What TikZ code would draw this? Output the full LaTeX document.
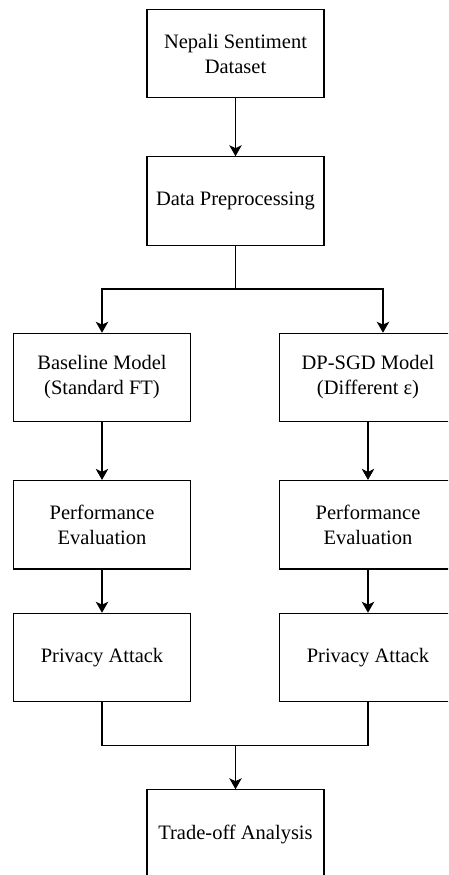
\documentclass[tikz,border=0pt]{standalone}
\usepackage{fontspec}
\setmainfont{Liberation Serif}
\usetikzlibrary{arrows.meta}

\begin{document}
\begin{tikzpicture}[
  x=1pt, y=-1pt,
  box/.style={draw, line width=1.1pt, minimum width=177pt, minimum height=88.5pt,
    align=center, font=\fontsize{20.5}{25}\selectfont},
  arr/.style={-{Stealth[length=11pt, width=12.5pt, inset=3pt]}, line width=1.1pt},
  wire/.style={line width=1.1pt}
]
  \useasboundingbox (0,0) rectangle (448,875);
  \clip (0,0) rectangle (448,875);

  \node[box] (data)  at (235.5,53.5)  {Nepali Sentiment\\Dataset};
  \node[box] (prep)  at (235.5,201)   {Data Preprocessing};
  \node[box] (base)  at (102,377.5)   {Baseline Model\\(Standard FT)};
  \node[box] (dpsgd) at (368,377.5)   {DP-SGD Model\\(Different ε)};
  \node[box] (perfL) at (102,524.7)   {Performance\\Evaluation};
  \node[box] (perfR) at (368,524.7)   {Performance\\Evaluation};
  \node[box] (attL)  at (102,657.5)   {Privacy Attack};
  \node[box] (attR)  at (368,657.5)   {Privacy Attack};
  \node[box] (trade) at (235.5,834)   {Trade-off Analysis};

  \coordinate (split) at (235.5,289);
  \coordinate (merge) at (235.5,745.7);

  \draw[arr] (data) -- (prep);
  \draw[wire] (prep.south) -- (split);
  \draw[arr] (split) -| (base.north);
  \draw[arr] (split) -| ([xshift=15pt]dpsgd.north);

  \draw[arr] (base) -- (perfL);
  \draw[arr] (dpsgd) -- (perfR);
  \draw[arr] (perfL) -- (attL);
  \draw[arr] (perfR) -- (attR);

  \draw[wire] (attL.south) |- (merge);
  \draw[wire] (attR.south) |- (merge);
  \draw[arr] (merge) -- (trade.north);
\end{tikzpicture}
\end{document}
